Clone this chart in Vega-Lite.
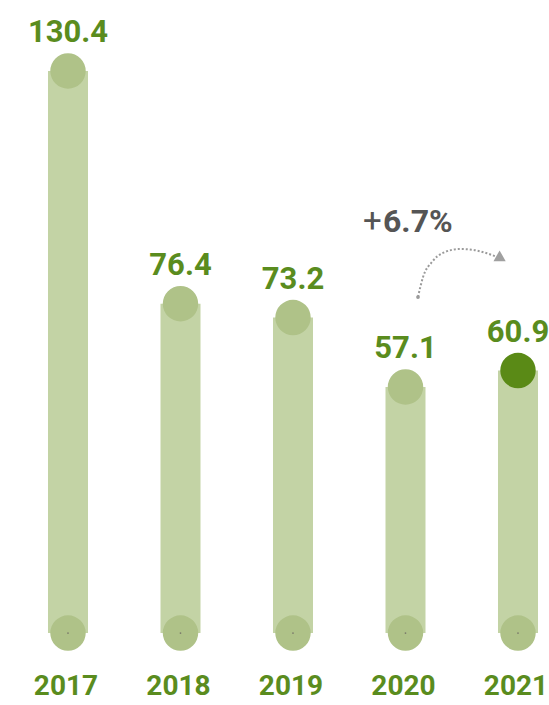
{
  "$schema": "https://vega.github.io/schema/vega-lite/v6.json",
  "width": 549,
  "height": 705,
  "padding": 0,
  "autosize": "none",
  "background": "white",
  "config": {"view": {"stroke": null}, "axis": {"disable": true}},
  "datasets": {
    "bars": [
      {"year": "2017", "idx": 0, "value": 130.4, "base": 0, "hl": false},
      {"year": "2018", "idx": 1, "value": 76.4, "base": 0, "hl": false},
      {"year": "2019", "idx": 2, "value": 73.2, "base": 0, "hl": false},
      {"year": "2020", "idx": 3, "value": 57.1, "base": 0, "hl": false},
      {"year": "2021", "idx": 4, "value": 60.9, "base": 0, "hl": true}
    ],
    "curve": [
      {"idx": 3.111, "value": 77.96},
      {"idx": 3.156, "value": 82.6},
      {"idx": 3.236, "value": 86.1},
      {"idx": 3.333, "value": 88.2},
      {"idx": 3.484, "value": 89.1},
      {"idx": 3.6, "value": 88.9},
      {"idx": 3.724, "value": 88.1},
      {"idx": 3.8, "value": 87.4}
    ],
    "note": [
      {"idx": 3.111, "value": 77.96, "arrowIdx": 3.85, "arrowValue": 86.9}
    ]
  },
  "layer": [
    {
      "data": {"name": "bars"},
      "mark": {"type": "rule", "strokeWidth": 40, "color": "#c3d3a5", "strokeCap": "butt"},
      "encoding": {
        "x": {"field": "idx", "type": "quantitative", "scale": {"domain": [-0.6044, 4.2756], "nice": false, "zero": false}},
        "y": {"field": "base", "type": "quantitative", "scale": {"domain": [-16.7, 146.87], "nice": false, "zero": false}},
        "y2": {"field": "value"}
      }
    },
    {
      "data": {"name": "bars"},
      "mark": {"type": "point", "shape": "circle", "filled": true, "opacity": 1, "size": 1257, "color": "#afc288"},
      "encoding": {
        "x": {"field": "idx", "type": "quantitative"},
        "y": {"field": "base", "type": "quantitative"}
      }
    },
    {
      "data": {"name": "bars"},
      "mark": {"type": "point", "shape": "circle", "filled": true, "opacity": 1, "size": 3, "color": "#7a7a6a"},
      "encoding": {
        "x": {"field": "idx", "type": "quantitative"},
        "y": {"field": "base", "type": "quantitative"}
      }
    },
    {
      "data": {"name": "bars"},
      "mark": {"type": "point", "shape": "circle", "filled": true, "opacity": 1, "size": 1257},
      "encoding": {
        "x": {"field": "idx", "type": "quantitative"},
        "y": {"field": "value", "type": "quantitative"},
        "color": {"condition": {"test": "datum.hl", "value": "#5a8a16"}, "value": "#afc288"}
      }
    },
    {
      "data": {"name": "bars"},
      "mark": {"type": "text", "font": "Roboto", "fontWeight": "bold", "fontSize": 31, "color": "#5a8c1e", "baseline": "alphabetic", "dy": -29},
      "encoding": {
        "x": {"field": "idx", "type": "quantitative"},
        "y": {"field": "value", "type": "quantitative"},
        "text": {"field": "value", "type": "quantitative", "format": ".1f"}
      }
    },
    {
      "data": {"name": "bars"},
      "mark": {"type": "text", "font": "Roboto", "fontWeight": "bold", "fontSize": 28, "color": "#5a8c1e", "baseline": "alphabetic", "dy": 62, "dx": -2},
      "encoding": {
        "x": {"field": "idx", "type": "quantitative"},
        "y": {"field": "base", "type": "quantitative"},
        "text": {"field": "year"}
      }
    },
    {
      "data": {"name": "curve"},
      "mark": {"type": "line", "interpolate": "monotone", "strokeDash": [2, 2], "strokeWidth": 2, "color": "#9a9a9a"},
      "encoding": {
        "x": {"field": "idx", "type": "quantitative"},
        "y": {"field": "value", "type": "quantitative"}
      }
    },
    {
      "data": {"name": "note"},
      "mark": {"type": "point", "shape": "circle", "filled": true, "opacity": 1, "size": 14, "color": "#9a9a9a"},
      "encoding": {
        "x": {"field": "idx", "type": "quantitative"},
        "y": {"field": "value", "type": "quantitative"}
      }
    },
    {
      "data": {"name": "note"},
      "mark": {"type": "point", "shape": "triangle-right", "filled": true, "opacity": 1, "size": 150, "angle": 30, "color": "#a0a0a0"},
      "encoding": {
        "x": {"field": "arrowIdx", "type": "quantitative"},
        "y": {"field": "arrowValue", "type": "quantitative"}
      }
    },
    {
      "data": {"values": [{"idx": 2.622, "value": 93.0, "t": "+"}]},
      "mark": {"type": "text", "font": "Roboto", "fontWeight": "normal", "fontSize": 33, "color": "#555555", "baseline": "alphabetic", "align": "left"},
      "encoding": {
        "x": {"field": "idx", "type": "quantitative"},
        "y": {"field": "value", "type": "quantitative"},
        "text": {"field": "t"}
      }
    },
    {
      "data": {"values": [{"idx": 2.8, "value": 93.0, "t": "6.7%"}]},
      "mark": {"type": "text", "font": "Roboto", "fontWeight": "bold", "fontSize": 32, "color": "#555555", "baseline": "alphabetic", "align": "left"},
      "encoding": {
        "x": {"field": "idx", "type": "quantitative"},
        "y": {"field": "value", "type": "quantitative"},
        "text": {"field": "t"}
      }
    }
  ]
}
